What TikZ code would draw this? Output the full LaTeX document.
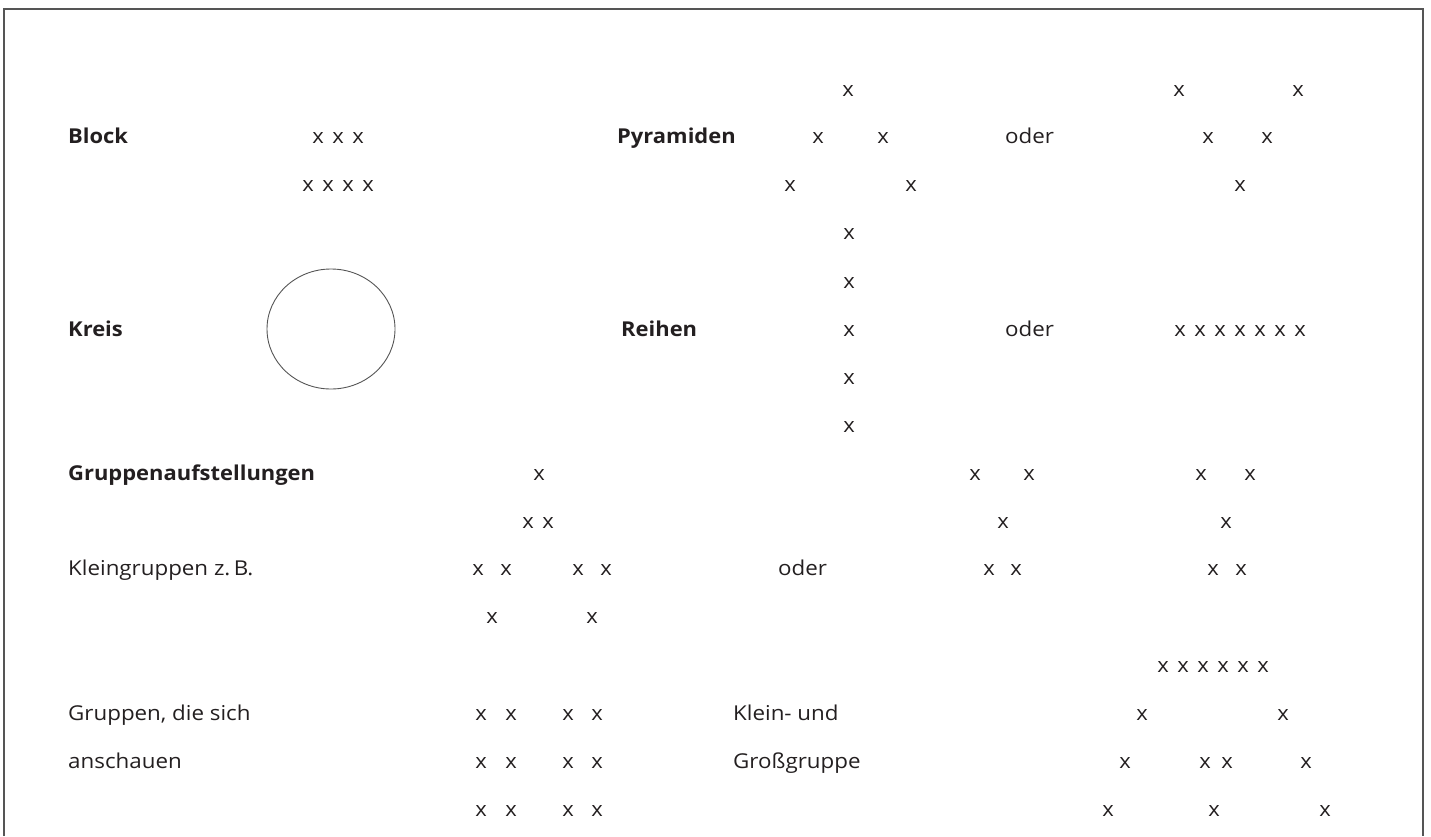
\documentclass[tikz,border=0pt]{standalone}
\usepackage{fontspec}
\setmainfont[FakeStretch=1.07]{Open Sans}
\newfontfamily\lblfont[FakeStretch=1.09]{Open Sans}
\definecolor{ink}{HTML}{231F20}
\definecolor{rule}{HTML}{555555}
\begin{document}
\begin{tikzpicture}[x=1pt,y=-1pt,
  lbl/.style={anchor=base west, inner sep=0pt, text=ink, font=\lblfont\fontsize{20.5}{24}\selectfont},
  hd/.style={anchor=base west, inner sep=0pt, text=ink, font=\fontsize{20.5}{24}\selectfont\bfseries},
  mk/.style={anchor=base, inner sep=0pt, text=ink, font=\fontsize{20.5}{24}\selectfont},
  framestyle/.style={draw=rule, line width=1.4pt},
  ringstyle/.style={draw=rule, line width=0.9pt}]
\useasboundingbox (0,0) rectangle (1431,836);
% frame
\coordinate (fa) at (4,836);
\coordinate (fb) at (4,9);
\coordinate (fc) at (1423,9);
\coordinate (fd) at (1423,836);
\draw[framestyle] (fa) -- (fb) -- (fc) -- (fd);
% labels
\node[hd]  (block)  at (68,143) {Block};
\node[hd]  (pyr)    at (617,143) {Pyramiden};
\node[lbl] (oder1)  at (1005,143) {oder};
\node[hd]  (kreis)  at (68,336) {Kreis};
\node[hd]  (reihen) at (621,336) {Reihen};
\node[lbl] (oder2)  at (1005,336) {oder};
\node[hd]  (grp)    at (68,480) {Gruppenaufstellungen};
\node[lbl] (klein)  at (68,575) {Kleingruppen z.\,B.};
\node[lbl] (oder3)  at (778,575) {oder};
\node[lbl] (gds)    at (68,720) {Gruppen, die sich};
\node[lbl] (ansch)  at (68,768) {anschauen};
\node[lbl] (kund)   at (733,720) {Klein- und};
\node[lbl] (gross)  at (733,768) {Großgruppe};
% circle
\draw[ringstyle] (331,329) ellipse [x radius=64, y radius=60];
% marks
\foreach \px/\py [count=\i] in {
  848/96, 1179/96, 1298/96,
  318/143, 338/143, 358/143, 818/143, 883/143, 1208/143, 1267/143,
  308/191, 328/191, 348/191, 368/191, 790/191, 911/191, 1240/191,
  849/239, 849/288, 849/336, 849/384, 849/432,
  1180/336, 1200/336, 1220/336, 1240/336, 1260/336, 1280/336, 1300/336,
  539/480, 975/480, 1029/480, 1201/480, 1250/480,
  528/528, 548/528, 1003/528, 1226/528,
  478/575, 506/575, 578/575, 606/575, 989/575, 1016/575, 1213/575, 1241/575,
  492/623, 592/623,
  1163/672, 1183/672, 1203/672, 1223/672, 1243/672, 1263/672,
  481/720, 511/720, 568/720, 597/720, 1142/720, 1283/720,
  481/768, 511/768, 568/768, 597/768, 1125/768, 1205/768, 1227/768, 1306/768,
  481/816, 511/816, 568/816, 597/816, 1108/816, 1214/816, 1325/816}
  \node[mk] (x\i) at (\px,\py) {x};
\end{tikzpicture}
\end{document}
